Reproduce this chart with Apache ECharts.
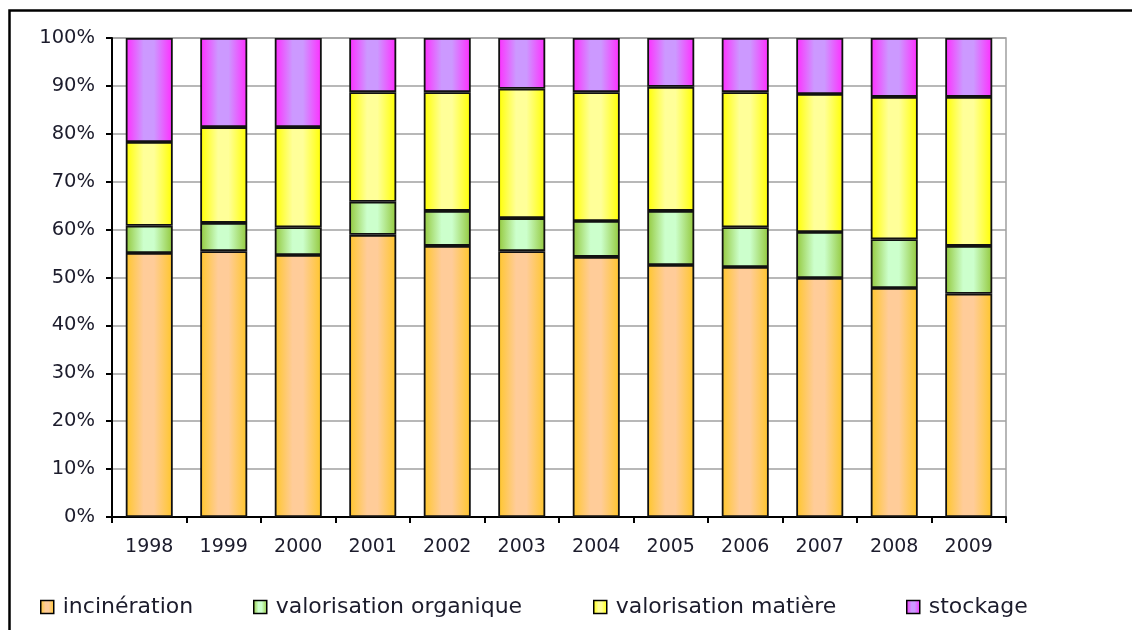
<!DOCTYPE html>
<html>
<head>
<meta charset="utf-8">
<script src="https://cdn.jsdelivr.net/npm/echarts@6/dist/echarts.min.js"></script>
<style>
  html, body { margin: 0; padding: 0; background: #fff; }
  #chart { width: 1132px; height: 630px; }
</style>
</head>
<body>
<div id="chart"></div>
<script>
// Share of each treatment route per year (percent of total)
const years = ['1998','1999','2000','2001','2002','2003','2004','2005','2006','2007','2008','2009'];
const incineration = [55.1, 55.5, 54.7, 58.9, 56.6, 55.5, 54.3, 52.6, 52.2, 49.9, 47.8, 46.6];
const valorisationOrganique = [5.7, 5.9, 5.8, 6.9, 7.3, 6.9, 7.5, 11.3, 8.3, 9.6, 10.2, 10.0];
const valorisationMatiere = [17.5, 20.0, 20.9, 22.9, 24.8, 27.0, 26.9, 25.9, 28.2, 28.8, 29.7, 31.1];
const stockage = [21.7, 18.6, 18.6, 11.3, 11.3, 10.6, 11.3, 10.2, 11.3, 11.7, 12.3, 12.3];
const seriesNames = ['incinération', 'valorisation organique', 'valorisation matière', 'stockage'];
const yTicks = { min: 0, max: 100, step: 10 };

const FONT = 'DejaVu Sans, Verdana, sans-serif';
const TEXT = '#1c1c2c';

// edge / centre colours for the horizontal shaded fill of each segment
const shades = [
  ['#ffc62a', '#ffcc99'],
  ['#93c83a', '#ccffcc'],
  ['#ffff00', '#ffff99'],
  ['#ff2cff', '#cc99ff']
];
function shaded(pair) {
  return new echarts.graphic.LinearGradient(0, 0, 1, 0, [
    { offset: 0, color: pair[0] },
    { offset: 0.38, color: pair[1] },
    { offset: 0.6, color: pair[1] },
    { offset: 1, color: pair[0] }
  ]);
}

const values = [incineration, valorisationOrganique, valorisationMatiere, stockage];
const legendLeft = [40, 253, 593, 906];

const chart = echarts.init(document.getElementById('chart'), null, { renderer: 'canvas' });
chart.setOption({
  animation: false,
  backgroundColor: '#fff',
  graphic: [{
    type: 'rect',
    silent: true,
    z: 100,
    shape: { x: 9.5, y: 10.5, width: 1300, height: 800 },
    style: { fill: 'none', stroke: '#000', lineWidth: 2.5 }
  }],
  grid: {
    left: 112, right: 126, top: 38, bottom: 113,
    show: true, borderColor: '#a0a0a0', borderWidth: 1.5, backgroundColor: 'transparent'
  },
  legend: seriesNames.map((name, i) => ({
    data: [name],
    left: legendLeft[i],
    top: 596,
    padding: 0,
    itemWidth: 13,
    itemHeight: 13,
    icon: 'rect',
    itemStyle: { borderColor: '#000', borderWidth: 1.5 },
    textStyle: { fontFamily: FONT, fontSize: 22, color: TEXT, padding: [0, 0, 0, 4] }
  })),
  xAxis: {
    type: 'category',
    data: years,
    axisLine: { lineStyle: { color: '#000', width: 2 } },
    axisTick: { show: true, length: 6, lineStyle: { color: '#000', width: 2 } },
    axisLabel: { fontFamily: FONT, fontSize: 19, color: TEXT, margin: 21 }
  },
  yAxis: {
    type: 'value',
    min: yTicks.min, max: yTicks.max, interval: yTicks.step,
    axisLine: { show: true, lineStyle: { color: '#000', width: 2 } },
    axisTick: { show: true, length: 6, lineStyle: { color: '#000', width: 2 } },
    axisLabel: { fontFamily: FONT, fontSize: 19.5, color: TEXT, margin: 17, formatter: '{value}%' },
    splitLine: { lineStyle: { color: '#a0a0a0', width: 1.5 } }
  },
  series: seriesNames.map((name, i) => ({
    name: name,
    type: 'bar',
    stack: 'total',
    barWidth: 47,
    data: values[i],
    itemStyle: { color: shaded(shades[i]), borderColor: '#111', borderWidth: 1.8 }
  }))
});
</script>
</body>
</html>
